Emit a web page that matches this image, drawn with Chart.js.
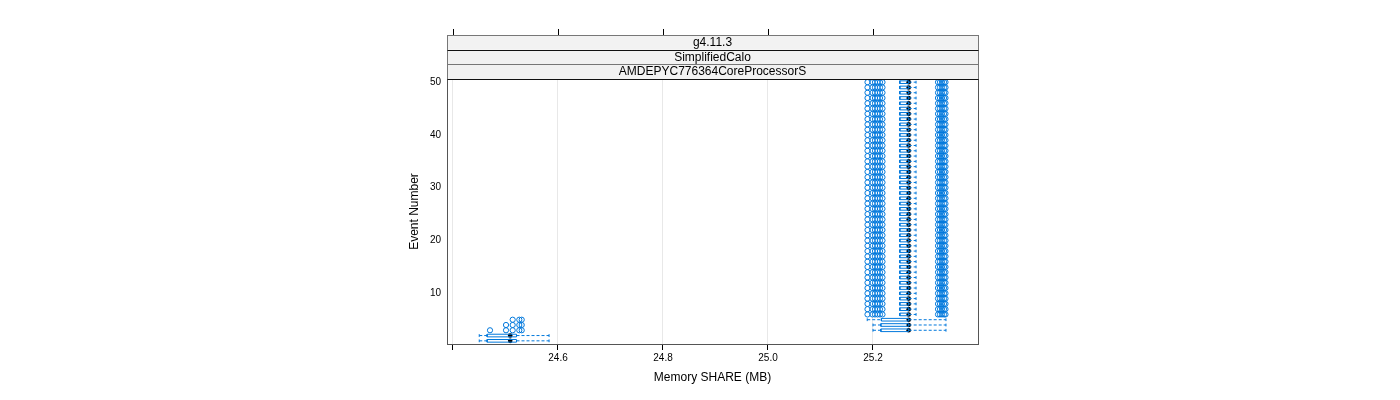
<!DOCTYPE html>
<html>
<head>
<meta charset="utf-8">
<script src="https://cdn.jsdelivr.net/npm/chart.js@4"></script>
<style>
html,body{margin:0;padding:0;background:#fff;}
canvas{display:block;}
</style>
</head>
<body>
<canvas id="c" width="1400" height="400"></canvas>
<script>
// ---------- DATA ----------
const stripLabels = ["g4.11.3", "SimplifiedCalo", "AMDEPYC776364CoreProcessorS"];
const xTitle = "Memory SHARE (MB)";
const yTitle = "Event Number";
const xTickValues = [24.4, 24.6, 24.8, 25.0, 25.2];
const xTickLabels = ["", "24.6", "24.8", "25.0", "25.2"];
const yTickValues = [10, 20, 30, 40, 50];

const events = [1,2,3,4,5,6,7,8,9,10,11,12,13,14,15,16,17,18,19,20,21,22,23,24,25,26,27,28,29,30,31,32,33,34,35,36,37,38,39,40,41,42,43,44,45,46,47,48,49,50];

const whiskerLow = [24.450,24.450,25.200,25.200,25.189,
  25.251,25.251,25.251,25.251,25.251,25.251,25.251,25.251,25.251,25.251,
  25.251,25.251,25.251,25.251,25.251,25.251,25.251,25.251,25.251,25.251,
  25.251,25.251,25.251,25.251,25.251,25.251,25.251,25.251,25.251,25.251,
  25.251,25.251,25.251,25.251,25.251,25.251,25.251,25.251,25.251,25.251,
  25.251,25.251,25.251,25.251,25.251];
const q1 = [24.465,24.465,25.215,25.215,25.216,
  25.251,25.251,25.251,25.251,25.251,25.251,25.251,25.251,25.251,25.251,
  25.251,25.251,25.251,25.251,25.251,25.251,25.251,25.251,25.251,25.251,
  25.251,25.251,25.251,25.251,25.251,25.251,25.251,25.251,25.251,25.251,
  25.251,25.251,25.251,25.251,25.251,25.251,25.251,25.251,25.251,25.251,
  25.251,25.251,25.251,25.251,25.251];
const median = [24.509,24.509,25.268,25.268,25.268,
  25.268,25.268,25.268,25.268,25.268,25.268,25.268,25.268,25.268,25.268,
  25.268,25.268,25.268,25.268,25.268,25.268,25.268,25.268,25.268,25.268,
  25.268,25.268,25.268,25.268,25.268,25.268,25.268,25.268,25.268,25.268,
  25.268,25.268,25.268,25.268,25.268,25.268,25.268,25.268,25.268,25.268,
  25.268,25.268,25.268,25.268,25.268];
const q3 = [24.521,24.521,25.268,25.268,25.268,
  25.268,25.268,25.268,25.268,25.268,25.268,25.268,25.268,25.268,25.268,
  25.268,25.268,25.268,25.268,25.268,25.268,25.268,25.268,25.268,25.268,
  25.268,25.268,25.268,25.268,25.268,25.268,25.268,25.268,25.268,25.268,
  25.268,25.268,25.268,25.268,25.268,25.268,25.268,25.268,25.268,25.268,
  25.268,25.268,25.268,25.268,25.268];
const whiskerHigh = [24.583,24.583,25.339,25.339,25.339,
  25.282,25.282,25.282,25.282,25.282,25.282,25.282,25.282,25.282,25.282,
  25.282,25.282,25.282,25.282,25.282,25.282,25.282,25.282,25.282,25.282,
  25.282,25.282,25.282,25.282,25.282,25.282,25.282,25.282,25.282,25.282,
  25.282,25.282,25.282,25.282,25.282,25.282,25.282,25.282,25.282,25.282,
  25.282,25.282,25.282,25.282,25.282];

// outliers per event (index = event - 1)
const outliers = [
  [],
  [],
  [24.4705,24.501,24.5137,24.5263,24.5309],
  [24.501,24.5137,24.5263,24.5309],
  [24.5137,24.5263,24.5309],
  [25.1895,25.199,25.2038,25.2086,25.2133,25.2181,25.3238,25.3276,25.3314,25.3352,25.3381],
  [25.1895,25.199,25.2038,25.2086,25.2133,25.2181,25.3238,25.3276,25.3314,25.3352,25.3381],
  [25.1895,25.199,25.2038,25.2086,25.2133,25.2181,25.3238,25.3276,25.3314,25.3352,25.3381],
  [25.1895,25.199,25.2038,25.2086,25.2133,25.2181,25.3238,25.3276,25.3314,25.3352,25.3381],
  [25.1895,25.199,25.2038,25.2086,25.2133,25.2181,25.3238,25.3276,25.3314,25.3352,25.3381],
  [25.1895,25.199,25.2038,25.2086,25.2133,25.2181,25.3238,25.3276,25.3314,25.3352,25.3381],
  [25.1895,25.199,25.2038,25.2086,25.2133,25.2181,25.3238,25.3276,25.3314,25.3352,25.3381],
  [25.1895,25.199,25.2038,25.2086,25.2133,25.2181,25.3238,25.3276,25.3314,25.3352,25.3381],
  [25.1895,25.199,25.2038,25.2086,25.2133,25.2181,25.3238,25.3276,25.3314,25.3352,25.3381],
  [25.1895,25.199,25.2038,25.2086,25.2133,25.2181,25.3238,25.3276,25.3314,25.3352,25.3381],
  [25.1895,25.199,25.2038,25.2086,25.2133,25.2181,25.3238,25.3276,25.3314,25.3352,25.3381],
  [25.1895,25.199,25.2038,25.2086,25.2133,25.2181,25.3238,25.3276,25.3314,25.3352,25.3381],
  [25.1895,25.199,25.2038,25.2086,25.2133,25.2181,25.3238,25.3276,25.3314,25.3352,25.3381],
  [25.1895,25.199,25.2038,25.2086,25.2133,25.2181,25.3238,25.3276,25.3314,25.3352,25.3381],
  [25.1895,25.199,25.2038,25.2086,25.2133,25.2181,25.3238,25.3276,25.3314,25.3352,25.3381],
  [25.1895,25.199,25.2038,25.2086,25.2133,25.2181,25.3238,25.3276,25.3314,25.3352,25.3381],
  [25.1895,25.199,25.2038,25.2086,25.2133,25.2181,25.3238,25.3276,25.3314,25.3352,25.3381],
  [25.1895,25.199,25.2038,25.2086,25.2133,25.2181,25.3238,25.3276,25.3314,25.3352,25.3381],
  [25.1895,25.199,25.2038,25.2086,25.2133,25.2181,25.3238,25.3276,25.3314,25.3352,25.3381],
  [25.1895,25.199,25.2038,25.2086,25.2133,25.2181,25.3238,25.3276,25.3314,25.3352,25.3381],
  [25.1895,25.199,25.2038,25.2086,25.2133,25.2181,25.3238,25.3276,25.3314,25.3352,25.3381],
  [25.1895,25.199,25.2038,25.2086,25.2133,25.2181,25.3238,25.3276,25.3314,25.3352,25.3381],
  [25.1895,25.199,25.2038,25.2086,25.2133,25.2181,25.3238,25.3276,25.3314,25.3352,25.3381],
  [25.1895,25.199,25.2038,25.2086,25.2133,25.2181,25.3238,25.3276,25.3314,25.3352,25.3381],
  [25.1895,25.199,25.2038,25.2086,25.2133,25.2181,25.3238,25.3276,25.3314,25.3352,25.3381],
  [25.1895,25.199,25.2038,25.2086,25.2133,25.2181,25.3238,25.3276,25.3314,25.3352,25.3381],
  [25.1895,25.199,25.2038,25.2086,25.2133,25.2181,25.3238,25.3276,25.3314,25.3352,25.3381],
  [25.1895,25.199,25.2038,25.2086,25.2133,25.2181,25.3238,25.3276,25.3314,25.3352,25.3381],
  [25.1895,25.199,25.2038,25.2086,25.2133,25.2181,25.3238,25.3276,25.3314,25.3352,25.3381],
  [25.1895,25.199,25.2038,25.2086,25.2133,25.2181,25.3238,25.3276,25.3314,25.3352,25.3381],
  [25.1895,25.199,25.2038,25.2086,25.2133,25.2181,25.3238,25.3276,25.3314,25.3352,25.3381],
  [25.1895,25.199,25.2038,25.2086,25.2133,25.2181,25.3238,25.3276,25.3314,25.3352,25.3381],
  [25.1895,25.199,25.2038,25.2086,25.2133,25.2181,25.3238,25.3276,25.3314,25.3352,25.3381],
  [25.1895,25.199,25.2038,25.2086,25.2133,25.2181,25.3238,25.3276,25.3314,25.3352,25.3381],
  [25.1895,25.199,25.2038,25.2086,25.2133,25.2181,25.3238,25.3276,25.3314,25.3352,25.3381],
  [25.1895,25.199,25.2038,25.2086,25.2133,25.2181,25.3238,25.3276,25.3314,25.3352,25.3381],
  [25.1895,25.199,25.2038,25.2086,25.2133,25.2181,25.3238,25.3276,25.3314,25.3352,25.3381],
  [25.1895,25.199,25.2038,25.2086,25.2133,25.2181,25.3238,25.3276,25.3314,25.3352,25.3381],
  [25.1895,25.199,25.2038,25.2086,25.2133,25.2181,25.3238,25.3276,25.3314,25.3352,25.3381],
  [25.1895,25.199,25.2038,25.2086,25.2133,25.2181,25.3238,25.3276,25.3314,25.3352,25.3381],
  [25.1895,25.199,25.2038,25.2086,25.2133,25.2181,25.3238,25.3276,25.3314,25.3352,25.3381],
  [25.1895,25.199,25.2038,25.2086,25.2133,25.2181,25.3238,25.3276,25.3314,25.3352,25.3381],
  [25.1895,25.199,25.2038,25.2086,25.2133,25.2181,25.3238,25.3276,25.3314,25.3352,25.3381],
  [25.1895,25.199,25.2038,25.2086,25.2133,25.2181,25.3238,25.3276,25.3314,25.3352,25.3381],
  [25.1895,25.199,25.2038,25.2086,25.2133,25.2181,25.3238,25.3276,25.3314,25.3352,25.3381]
];

// ---------- BUILD DATASETS ----------
const BLUE = "#0078dc";
const HALF = 0.25;   // half box height (y units)
const GAP = {x: null, y: null};

const whiskerPts = [];
const capPts = [];
const boxPts = [];
const medianPts = [];
const outlierPts = [];
events.forEach((e, i) => {
  if (whiskerLow[i] < q1[i]) {
    whiskerPts.push({x: whiskerLow[i], y: e}, {x: q1[i], y: e}, GAP);
  }
  if (whiskerHigh[i] > q3[i]) {
    whiskerPts.push({x: q3[i], y: e}, {x: whiskerHigh[i], y: e}, GAP);
  }
  capPts.push({x: whiskerLow[i], y: e}, {x: whiskerHigh[i], y: e});
  boxPts.push({x: q1[i], y: e - HALF}, {x: q3[i], y: e - HALF},
              {x: q3[i], y: e + HALF}, {x: q1[i], y: e + HALF},
              {x: q1[i], y: e - HALF}, GAP);
  medianPts.push({x: median[i], y: e});
  outliers[i].forEach(v => outlierPts.push({x: v, y: e}));
});

const FONT = "'Liberation Sans', Arial, Helvetica, sans-serif";

const decor = {
  id: 'decor',
  afterDraw(chart) {
    const ctx = chart.ctx;
    const a = chart.chartArea;
    const xs = chart.scales.x;
    ctx.save();
    // strips
    const stripH = 14.67;
    const top0 = a.top - stripH * stripLabels.length;
    const L = Math.round(a.left) + 0.5;
    const W = Math.round(a.right - a.left);
    ctx.font = "12px " + FONT;
    ctx.textAlign = "center";
    ctx.textBaseline = "middle";
    stripLabels.forEach((lab, k) => {
      const y0 = top0 + k * stripH;
      ctx.fillStyle = "#f2f2f2";
      ctx.fillRect(a.left, y0, a.right - a.left, stripH);
      ctx.fillStyle = "#000";
      ctx.fillText(lab, (a.left + a.right) / 2, y0 + stripH / 2 + 0.5);
    });
    ctx.lineWidth = 1;
    ctx.strokeStyle = "#777";
    ctx.strokeRect(L, Math.round(top0) + 0.5, W, Math.round(a.top - top0));
    for (let k = 1; k < stripLabels.length; k++) {
      const yy = Math.round(top0 + k * stripH) + 0.5;
      ctx.strokeStyle = k === 1 ? "#111" : "#777";
      ctx.beginPath(); ctx.moveTo(L, yy); ctx.lineTo(L + W, yy); ctx.stroke();
    }
    // top ticks
    ctx.strokeStyle = "#000";
    xTickValues.forEach(v => {
      const px = Math.round(xs.getPixelForValue(v)) + 0.5;
      ctx.beginPath();
      ctx.moveTo(px, top0);
      ctx.lineTo(px, top0 - 6);
      ctx.stroke();
    });
    // panel frame
    ctx.strokeStyle = "#555";
    ctx.strokeRect(L, Math.round(a.top) + 0.5, W, Math.round(a.bottom - a.top));
    ctx.strokeStyle = "#111";
    ctx.beginPath(); ctx.moveTo(L, Math.round(a.top) + 0.5); ctx.lineTo(L + W, Math.round(a.top) + 0.5); ctx.stroke();
    // axis titles
    ctx.fillStyle = "#000";
    ctx.font = "12px " + FONT;
    ctx.textAlign = "center";
    ctx.textBaseline = "middle";
    ctx.fillText(xTitle, (a.left + a.right) / 2, 378);
    ctx.translate(415, (a.top + a.bottom) / 2);
    ctx.rotate(-Math.PI / 2);
    ctx.fillText(yTitle, 0, 0);
    ctx.restore();
  }
};

new Chart(document.getElementById('c'), {
  type: 'scatter',
  data: {
    datasets: [
      {data: whiskerPts, showLine: true, spanGaps: false, borderColor: BLUE, borderWidth: 1, borderDash: [3, 2], pointRadius: 0, fill: false},
      {data: boxPts, showLine: true, spanGaps: false, borderColor: BLUE, borderWidth: 1, pointRadius: 0, fill: false},
      {data: capPts, showLine: false, pointStyle: 'line', rotation: 90, pointRadius: 1.4, borderColor: BLUE, borderWidth: 1},
      {data: outlierPts, showLine: false, pointStyle: 'circle', pointRadius: 2.6, borderColor: BLUE, borderWidth: 1, backgroundColor: 'rgba(0,0,0,0)'},
      {data: medianPts, showLine: false, pointStyle: 'circle', pointRadius: 2.3, borderWidth: 0, backgroundColor: '#000', borderColor: '#000'}
    ]
  },
  options: {
    responsive: false,
    animation: false,
    devicePixelRatio: 1,
    layout: {padding: {left: 400, right: 422, top: 79, bottom: 0}},
    plugins: {legend: {display: false}, tooltip: {enabled: false}},
    scales: {
      x: {
        type: 'linear',
        min: 24.3886,
        max: 25.4,
        afterFit(s) { s.height = 56; },
        afterBuildTicks(s) { s.ticks = xTickValues.map(v => ({value: v})); },
        ticks: {
          autoSkip: false,
          maxRotation: 0,
          padding: 2,
          color: '#000',
          font: {family: FONT, size: 10},
          callback(v) { const k = xTickValues.indexOf(v); return k >= 0 ? xTickLabels[k] : ''; }
        },
        grid: {color: '#e8e8e8', lineWidth: 1, drawTicks: true, tickLength: 6, tickColor: '#000'},
        border: {display: false}
      },
      y: {
        type: 'linear',
        min: 0.4,
        max: 50.6,
        afterFit(s) { s.width = 47; },
        afterBuildTicks(s) { s.ticks = yTickValues.map(v => ({value: v})); },
        ticks: {
          autoSkip: false,
          padding: 6,
          color: '#000',
          font: {family: FONT, size: 10},
          callback(v) { return String(v); }
        },
        grid: {display: false, drawTicks: false},
        border: {display: false}
      }
    }
  },
  plugins: [decor]
});
</script>
</body>
</html>
